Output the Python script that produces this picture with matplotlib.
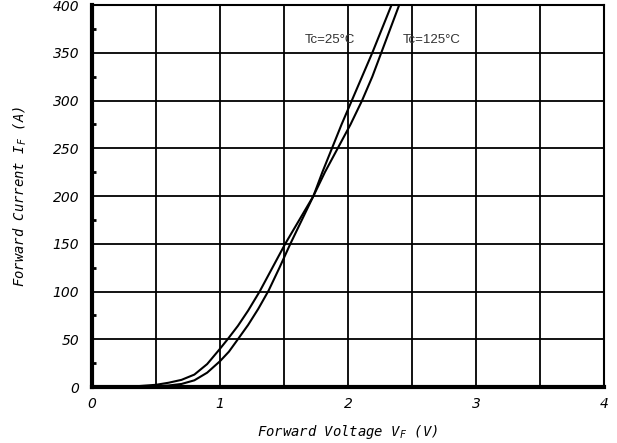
"""
Diode forward characteristic: IF vs VF at Tc=25C and Tc=125C
"""

import matplotlib
matplotlib.use('Agg')
import matplotlib.pyplot as plt
from matplotlib.ticker import MultipleLocator

plt.rcParams['font.family'] = ['DejaVu Sans']
plt.rcParams['mathtext.fontset'] = 'custom'
plt.rcParams['mathtext.it'] = 'DejaVu Sans Mono:italic'
plt.rcParams['mathtext.rm'] = 'DejaVu Sans Mono'

# ============================================
# data
# ============================================
vf_25 = [0.0, 0.3, 0.5, 0.6, 0.7, 0.8, 0.9, 1.0, 1.07, 1.14, 1.22, 1.30, 1.38,
         1.465, 1.55, 1.64, 1.73, 1.80, 1.875, 1.95, 2.03, 2.11, 2.19, 2.265, 2.34]
if_25 = [0.0, 0.1, 0.8, 1.6, 3.2, 7, 15, 27, 37, 50, 65, 82, 101,
         125, 150, 175, 200, 225, 250, 275, 300, 325, 350, 375, 400]

vf_125 = [0.0, 0.3, 0.5, 0.6, 0.7, 0.8, 0.9, 1.0, 1.06, 1.14, 1.22, 1.31, 1.41,
          1.51, 1.62, 1.73, 1.82, 1.92, 2.02, 2.11, 2.19, 2.26, 2.33, 2.40]
if_125 = [0.0, 0.3, 2.3, 4.5, 7.5, 13, 24, 40, 50, 64, 80, 100, 125,
          150, 175, 200, 225, 250, 275, 300, 325, 350, 375, 400]

x_labels = ['0', '', '1', '', '2', '', '3', '', '4']
y_ticks = [0, 50, 100, 150, 200, 250, 300, 350, 400]

# ============================================
# plot
# ============================================
fig = plt.figure(figsize=(6.17, 4.43), dpi=100)
ax = fig.add_axes([0.149, 0.1264, 0.830, 0.8623])

ax.plot(vf_25, if_25, color='black', lw=1.5, solid_capstyle='butt')
ax.plot(vf_125, if_125, color='black', lw=1.5, solid_capstyle='butt')

ax.set_xlim(0, 4)
ax.set_ylim(0, 400)

# grid every 0.5 V / 50 A
ax.grid(True, color='black', lw=1.3)
ax.tick_params(axis='both', which='major', length=0)

ax.set_xticks([0, 0.5, 1, 1.5, 2, 2.5, 3, 3.5, 4])
ax.set_xticklabels(x_labels, fontstyle='italic', fontsize=10)
ax.set_yticks(y_ticks)
ax.set_yticklabels([str(v) for v in y_ticks], fontstyle='italic', fontsize=10)
ax.tick_params(axis='x', pad=7)
ax.tick_params(axis='y', pad=9)

# small inward ticks on left spine
ax.yaxis.set_minor_locator(MultipleLocator(25))
ax.tick_params(axis='y', which='minor', direction='in', length=3, width=2,
               left=True)

for side in ['left', 'bottom']:
    ax.spines[side].set_linewidth(3)
for side in ['top', 'right']:
    ax.spines[side].set_linewidth(1.5)

ax.set_xlabel(r'Forward Voltage V$_{F}$ (V)', family='DejaVu Sans Mono',
              fontstyle='italic', fontsize=10, labelpad=9)
ax.set_ylabel(r'Forward Current I$_{F}$ (A)', family='DejaVu Sans Mono',
              fontstyle='italic', fontsize=10, labelpad=17)

ax.text(1.66, 363, 'Tc=25°C', family=['Liberation Sans', 'DejaVu Sans'],
        fontsize=9.5, va='center', ha='left', color='#333333')
ax.text(2.43, 363, 'Tc=125°C', family=['Liberation Sans', 'DejaVu Sans'],
        fontsize=9.5, va='center', ha='left', color='#333333')

plt.savefig('out.png', dpi=100)
plt.close()
